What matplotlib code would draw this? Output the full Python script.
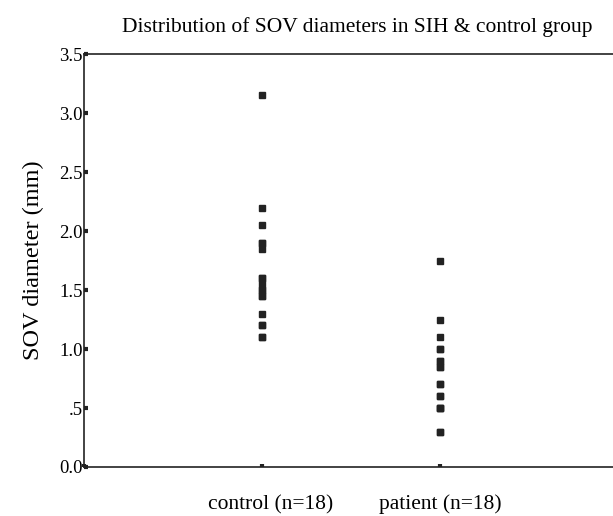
import numpy as np
import matplotlib.pyplot as plt
from matplotlib.transforms import ScaledTranslation

plt.rcParams['font.family'] = ['Liberation Serif', 'DejaVu Serif']

groups = ['control (n=18)', 'patient (n=18)']
control = [3.15, 2.2, 2.05, 1.9, 1.9, 1.85, 1.6, 1.6, 1.55, 1.5, 1.5, 1.45,
           1.45, 1.3, 1.2, 1.2, 1.1, 1.1]
patient = [1.75, 1.25, 1.1, 1.0, 1.0, 0.9, 0.9, 0.85, 0.85, 0.7, 0.7, 0.6,
           0.6, 0.5, 0.5, 0.5, 0.3, 0.3]
yticks = [0.0, 0.5, 1.0, 1.5, 2.0, 2.5, 3.0, 3.5]
ytick_labels = ['0.0', '.5', '1.0', '1.5', '2.0', '2.5', '3.0', '3.5']

fig = plt.figure(figsize=(6.13, 5.16), dpi=100)
ax = fig.add_axes([0.137, 0.095, 0.863, 0.8])

for i, vals in enumerate([control, patient]):
    ax.plot(np.full(len(vals), i + 1), vals, 's', color='#222222',
            markersize=3.7, clip_on=False)

ax.set_xlim(0, 2.97)
ax.set_ylim(0, 3.5)
ax.set_xticks([0, 1, 2])
ax.set_xticklabels([''] + groups, fontsize=15.5)
ax.set_yticks(yticks)
ax.set_yticklabels(ytick_labels, fontsize=13.5)
ax.tick_params(axis='y', direction='in', length=3, width=3, pad=1, color='#222222')
ax.tick_params(axis='x', direction='in', length=2, width=3, pad=20, color='#222222')
# control label sits a little right of its tick in the original
lbl = ax.get_xticklabels()[1]
lbl.set_transform(lbl.get_transform() + ScaledTranslation(9 / 100, 0, fig.dpi_scale_trans))

ax.spines['right'].set_visible(False)
for s in ['left', 'top', 'bottom']:
    ax.spines[s].set_linewidth(1.2)
    ax.spines[s].set_color('#222222')

ax.set_ylabel('SOV diameter (mm)', fontsize=17.5, labelpad=11)
ax.set_title('Distribution of SOV diameters in SIH & control group',
             fontsize=15.5, x=0.517, pad=16)

fig.savefig('out.png', dpi=100)
